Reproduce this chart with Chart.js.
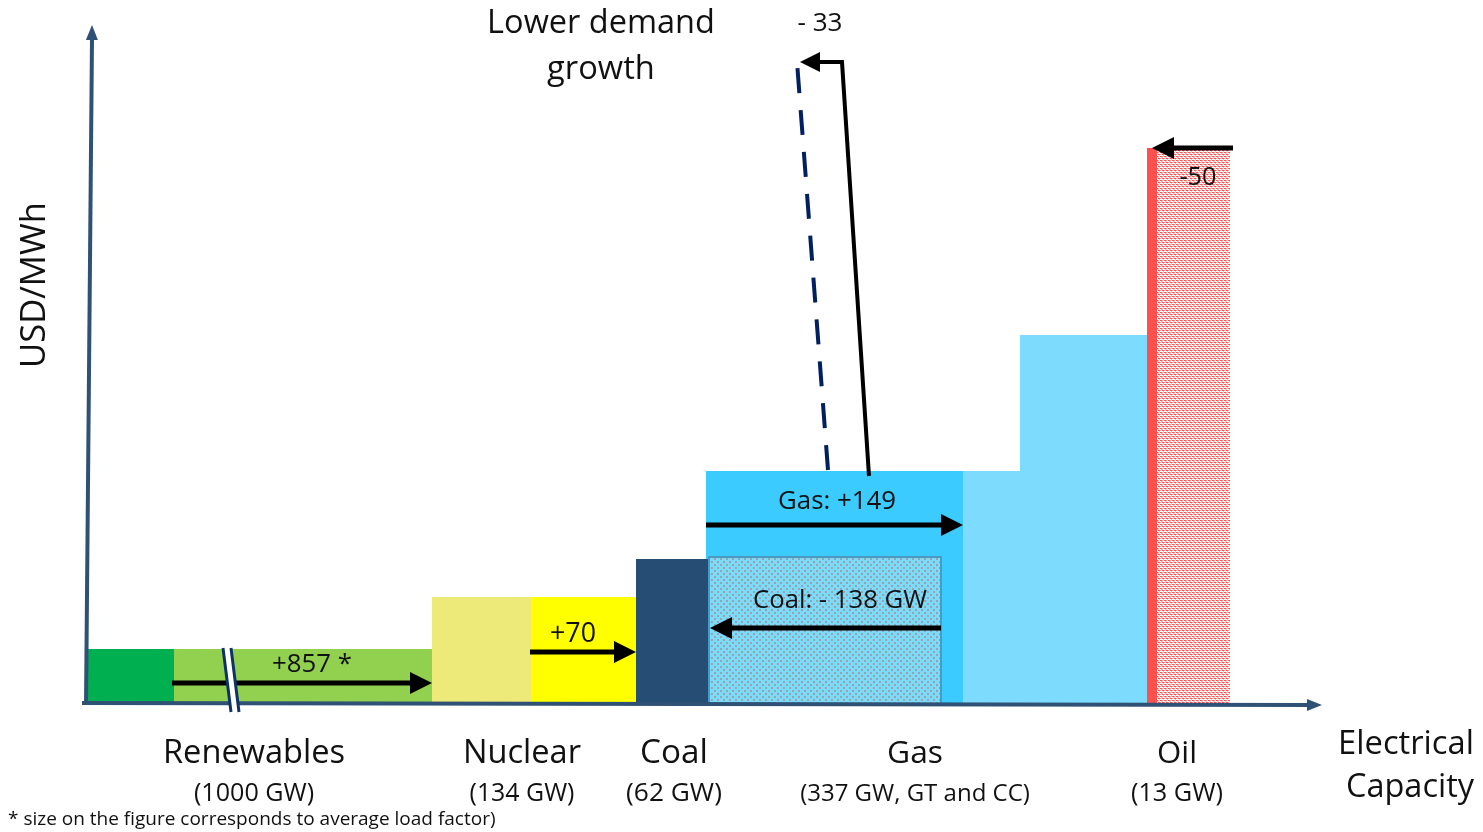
<!DOCTYPE html>
<html>
<head>
<meta charset="utf-8">
<script src="https://cdn.jsdelivr.net/npm/chart.js@4.4.0/dist/chart.umd.min.js"></script>
<style>
  html, body { margin: 0; padding: 0; background: #fff; overflow: hidden; }
</style>
</head>
<body>
<canvas id="meritChart" width="1483" height="832"></canvas>
<script>
// Schematic merit-order curve (figure units: capacity on x, cost on y)
const blockNames = ['Renewables (existing)', 'Renewables (added)', 'Nuclear (existing)', 'Nuclear (added)',
  'Coal', 'Gas', 'Gas GT', 'Gas peak', 'Oil', 'Oil (removed)', 'Coal (retired)'];
const blockStart = [0, 86, 344, 443, 548, 618, 875, 932, 1059, 1069, 621];
const blockEnd   = [86, 344, 443, 548, 622, 875, 932, 1059, 1069, 1142, 853];
const blockCost  = [54, 54, 106, 106, 144, 232, 232, 368, 555, 555, 146];

// category labels under the axis
const categories = ['Renewables', 'Nuclear', 'Coal', 'Gas', 'Oil'];
const categoryCapacity = ['(1000 GW)', '(134 GW)', '(62 GW)', '(337 GW, GT and CC)', '(13 GW)'];
const categoryX = [166, 434, 586, 827, 1089];

// change arrows: [x0, y0, x1, y1] in figure units
const changeLabels = ['+857 *', '+70', 'Gas: +149', 'Coal: - 138 GW', '-50'];
const changeArrows = [[84, 20, 344, 20], [442, 51, 548, 51], [618, 178, 875, 178], [853, 75, 622, 75], [1145, 555, 1064, 555]];
const changeLabelPos = [[224, 38], [485, 69], [749, 201], [752, 102], [1110, 525]];

// lower demand growth: solid (merit curve shift) and dashed (new demand)
const demandShift = [[781, 227], [754, 641], [712, 641]];
const demandDashed = [[740, 233], [709, 641]];

function makePattern(size, base, dots) {
    const c = document.createElement('canvas');
    c.width = size; c.height = size;
    const g = c.getContext('2d');
    g.fillStyle = base;
    g.fillRect(0, 0, size, size);
    dots.forEach(d => { g.fillStyle = d[4]; g.fillRect(d[0], d[1], d[2], d[3]); });
    return g.createPattern(c, 'repeat');
}

// checker of grey dots on light blue, and red dashes on white
const coalHatch = makePattern(6, '#7adbfb', [[0, 0, 2, 2, '#9aa2ad'], [3, 3, 2, 2, '#9aa2ad']]);
const oilHatch = makePattern(4, '#ffffff', [[0, 0, 2, 1, '#ff4f4f'], [2, 2, 2, 1, '#ff4f4f'], [2, 0, 1, 1, '#ffa0a0'], [0, 2, 1, 1, '#ffa0a0'], [1, 1, 2, 1, '#ffc4c4'], [3, 3, 1, 1, '#ffc4c4']]);

const fills = ['#00b050', '#92d050', '#eeea7a', '#ffff00', '#264d73', '#3bcbff', '#7ddcfd', '#7ddcfd', '#ff5050', oilHatch, coalHatch];

const datasets = blockNames.map((name, i) => ({
    label: name,
    data: [
        { x: blockStart[i], y: 0 },
        { x: blockStart[i], y: blockCost[i] },
        { x: blockEnd[i], y: blockCost[i] },
        { x: blockEnd[i], y: 0 }
    ],
    fill: 'origin',
    backgroundColor: fills[i],
    borderColor: name === 'Coal (retired)' ? '#4b9ac4' : 'rgba(0,0,0,0)',
    borderWidth: name === 'Coal (retired)' ? 2 : 1,
    pointRadius: 0,
    tension: 0,
    order: name === 'Coal (retired)' ? 0 : 1
}));

function arrowHead(ctx, x0, y0, x1, y1, len, half, color) {
    const a = Math.atan2(y1 - y0, x1 - x0);
    ctx.save();
    ctx.fillStyle = color;
    ctx.translate(x1, y1);
    ctx.rotate(a);
    ctx.beginPath();
    ctx.moveTo(0, 0);
    ctx.lineTo(-len, -half);
    ctx.lineTo(-len, half);
    ctx.closePath();
    ctx.fill();
    ctx.restore();
}

function fitText(ctx, text, x, y, width, weight) {
    ctx.font = (weight || 'normal') + ' 20px "Open Sans"';
    const size = 20 * width / ctx.measureText(text).width;
    ctx.font = (weight || 'normal') + ' ' + size.toFixed(1) + 'px "Open Sans"';
    ctx.fillText(text, x, y);
}

const annotations = {
    id: 'annotations',
    afterDatasetsDraw(chart) {
        const ctx = chart.ctx;
        const xs = chart.scales.x, ys = chart.scales.y;
        const px = v => xs.getPixelForValue(v);
        const py = v => ys.getPixelForValue(v);
        ctx.save();
        ctx.lineCap = 'butt';

        // axes
        const axisColor = '#2e5175';
        ctx.strokeStyle = axisColor;
        ctx.lineWidth = 4;
        ctx.beginPath();
        ctx.moveTo(86, 705);
        ctx.lineTo(92, 38);
        ctx.stroke();
        arrowHead(ctx, 91.9, 40, 92, 25, 15, 6, axisColor);
        ctx.beginPath();
        ctx.moveTo(82, 703);
        ctx.lineTo(1310, 705);
        ctx.stroke();
        arrowHead(ctx, 1300, 705, 1322, 705, 15, 6, axisColor);

        // change arrows
        ctx.strokeStyle = '#000';
        ctx.lineWidth = 5;
        changeArrows.forEach(a => {
            const x0 = px(a[0]), y0 = py(a[1]), x1 = px(a[2]), y1 = py(a[3]);
            const dir = Math.sign(x1 - x0);
            ctx.beginPath();
            ctx.moveTo(x0, y0);
            ctx.lineTo(x1 - dir * 18, y1);
            ctx.stroke();
            arrowHead(ctx, x0, y0, x1, y1, 22, 11, '#000');
        });

        // break mark on the renewables arrow
        ctx.lineWidth = 9;
        ctx.strokeStyle = '#ffffff';
        ctx.beginPath();
        ctx.moveTo(227, 648); ctx.lineTo(235, 712);
        ctx.stroke();
        ctx.lineWidth = 3;
        ctx.strokeStyle = '#0d3268';
        [-4, 4].forEach(o => {
            ctx.beginPath();
            ctx.moveTo(227 + o, 648); ctx.lineTo(235 + o, 712);
            ctx.stroke();
        });

        // lower demand growth
        ctx.strokeStyle = '#002060';
        ctx.lineWidth = 4;
        ctx.setLineDash([25, 17]);
        ctx.beginPath();
        ctx.moveTo(px(demandDashed[0][0]), py(demandDashed[0][1]));
        ctx.lineTo(px(demandDashed[1][0]), py(demandDashed[1][1]));
        ctx.stroke();
        ctx.setLineDash([]);
        ctx.strokeStyle = '#000';
        ctx.lineWidth = 4;
        ctx.lineJoin = 'miter';
        ctx.beginPath();
        ctx.moveTo(px(demandShift[0][0]), py(demandShift[0][1]));
        ctx.lineTo(px(demandShift[1][0]), py(demandShift[1][1]));
        ctx.lineTo(px(demandShift[2][0]) + 16, py(demandShift[2][1]));
        ctx.stroke();
        arrowHead(ctx, px(demandShift[1][0]), py(demandShift[1][1]), px(demandShift[2][0]), py(demandShift[2][1]), 20, 10, '#000');

        // texts
        ctx.fillStyle = '#111';
        ctx.textAlign = 'center';
        ctx.textBaseline = 'middle';
        const changeWidths = [80, 46, 118, 174, 37];
        changeLabels.forEach((t, i) => fitText(ctx, t, px(changeLabelPos[i][0]), py(changeLabelPos[i][1]), changeWidths[i]));
        fitText(ctx, '- 33', 820, 24, 45);

        fitText(ctx, 'Lower demand', 601, 24, 228);
        fitText(ctx, 'growth', 601, 70, 108);

        const catWidths = [182, 118, 68, 56, 40];
        const capWidths = [120, 105, 96, 230, 92];
        categories.forEach((c, i) => {
            fitText(ctx, c, px(categoryX[i]), 754, catWidths[i]);
            fitText(ctx, categoryCapacity[i], px(categoryX[i]), 794, capWidths[i]);
        });
        fitText(ctx, 'Electrical', 1406, 745, 136);
        fitText(ctx, 'Capacity', 1410, 788, 128);

        ctx.textAlign = 'left';
        fitText(ctx, '* size on the figure corresponds to average load factor)', 8, 820, 488);

        ctx.save();
        ctx.translate(35, 285);
        ctx.rotate(-Math.PI / 2);
        ctx.textAlign = 'center';
        fitText(ctx, 'USD/MWh', 0, 0, 166);
        ctx.restore();

        ctx.restore();
    }
};

new Chart(document.getElementById('meritChart').getContext('2d'), {
    type: 'line',
    data: { datasets: datasets },
    options: {
        responsive: false,
        animation: false,
        devicePixelRatio: 1,
        layout: { padding: { left: 88, right: 163, top: 25, bottom: 129 } },
        scales: {
            x: { type: 'linear', min: 0, max: 1232, display: false },
            y: { type: 'linear', min: 0, max: 678, display: false }
        },
        plugins: {
            legend: { display: false },
            tooltip: { enabled: false }
        },
        elements: { line: { tension: 0 } }
    },
    plugins: [annotations]
});
</script>
</body>
</html>
